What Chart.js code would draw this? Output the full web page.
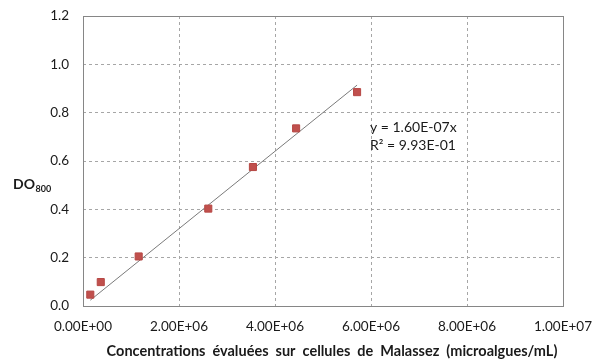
<!DOCTYPE html>
<html>
<head>
<meta charset="utf-8">
<script src="https://cdn.jsdelivr.net/npm/chart.js@4"></script>
<style>
  html, body { margin: 0; padding: 0; background: #fff; }
  #wrap { width: 601px; height: 363px; }
</style>
</head>
<body>
<div id="wrap"><canvas id="chart" width="601" height="363"></canvas></div>
<script>
  // ---- data ----
  const concX = [0.152e6, 0.37e6, 1.16e6, 2.61e6, 3.54e6, 4.44e6, 5.71e6];
  const doY = [0.047, 0.099, 0.205, 0.403, 0.575, 0.735, 0.885];
  // trend line end points (y = 1.60E-07x)
  const trendX = [0.152e6, 5.71e6];
  const trendY = [0.024, 0.914];
  const eqLines = ["y = 1.60E-07x", "R\u00B2 = 9.93E-01"];
  const xTitle = "Concentrations  \u00E9valu\u00E9es  sur  cellules  de  Malassez  (microalgues/mL)";

  const FONT = "Lato, 'Open Sans', sans-serif";

  const fmtExp = (v) => {
    const [m, e] = Number(v).toExponential(2).split("e");
    const n = parseInt(e, 10);
    const sign = n < 0 ? "-" : "+";
    return m + "E" + sign + String(Math.abs(n)).padStart(2, "0");
  };

  // extra drawing: plot frame, axis titles, equation
  const extras = {
    id: "extras",
    beforeDatasetsDraw(chart) {
      const { ctx, chartArea: a } = chart;
      ctx.save();
      ctx.strokeStyle = "#868686";
      ctx.lineWidth = 1;
      ctx.strokeRect(Math.round(a.left) + 0.5, Math.round(a.top) + 0.5,
        Math.round(a.right - a.left), Math.round(a.bottom - a.top));
      ctx.restore();
    },
    afterDraw(chart) {
      const { ctx } = chart;
      ctx.save();
      ctx.fillStyle = "#1a1a1a";
      // y title DO800
      ctx.font = "bold 14px " + FONT;
      ctx.textBaseline = "alphabetic";
      ctx.textAlign = "left";
      ctx.fillText("DO", 13, 189);
      const w = ctx.measureText("DO").width;
      ctx.font = "bold 9px " + FONT;
      ctx.fillText("800", 13 + w + 0.5, 192);
      // x title
      ctx.font = "bold 14.5px " + FONT;
      ctx.textAlign = "center";
      ctx.fillText(xTitle, 332, 356);
      // equation
      ctx.font = "14px " + FONT;
      ctx.textAlign = "left";
      ctx.fillText(eqLines[0], 370, 132);
      ctx.fillText(eqLines[1], 370, 150);
      ctx.restore();
    }
  };

  new Chart(document.getElementById("chart"), {
    type: "scatter",
    data: {
      datasets: [
        {
          label: "DO800",
          data: concX.map((x, i) => ({ x: x, y: doY[i] })),
          pointStyle: "rect",
          pointRadius: 5,
          backgroundColor: "#C0504D",
          borderColor: "#B64744",
          borderWidth: 1,
          order: 1
        },
        {
          label: "Linéaire",
          type: "line",
          data: trendX.map((x, i) => ({ x: x, y: trendY[i] })),
          borderColor: "#7a7a7a",
          borderWidth: 1,
          pointRadius: 0,
          showLine: true,
          order: 2
        }
      ]
    },
    options: {
      responsive: false,
      animation: false,
      layout: { padding: { left: 0, right: 38, top: 16, bottom: 0 } },
      plugins: {
        legend: { display: false },
        tooltip: { enabled: false }
      },
      scales: {
        x: {
          type: "linear",
          min: 0,
          max: 1e7,
          afterFit: (s) => { s.height = 57; s.paddingLeft = 0; s.paddingRight = 0; },
          ticks: {
            stepSize: 2e6,
            padding: 13,
            color: "#1a1a1a",
            font: { family: FONT, size: 13.5 },
            maxRotation: 0,
            callback: (v) => fmtExp(v)
          },
          grid: {
            color: "#a6a6a6",
            drawTicks: false
          },
          border: { display: false, dash: [3, 3] }
        },
        y: {
          min: 0,
          max: 1.2,
          afterFit: (s) => { s.width = 83; s.paddingTop = 0; s.paddingBottom = 0; },
          ticks: {
            stepSize: 0.2,
            padding: 14,
            color: "#1a1a1a",
            font: { family: FONT, size: 13.5 },
            callback: (v) => Number(v).toFixed(1)
          },
          grid: {
            color: "#a6a6a6",
            drawTicks: false
          },
          border: { display: false, dash: [3, 3] }
        }
      }
    },
    plugins: [extras]
  });
</script>
</body>
</html>
